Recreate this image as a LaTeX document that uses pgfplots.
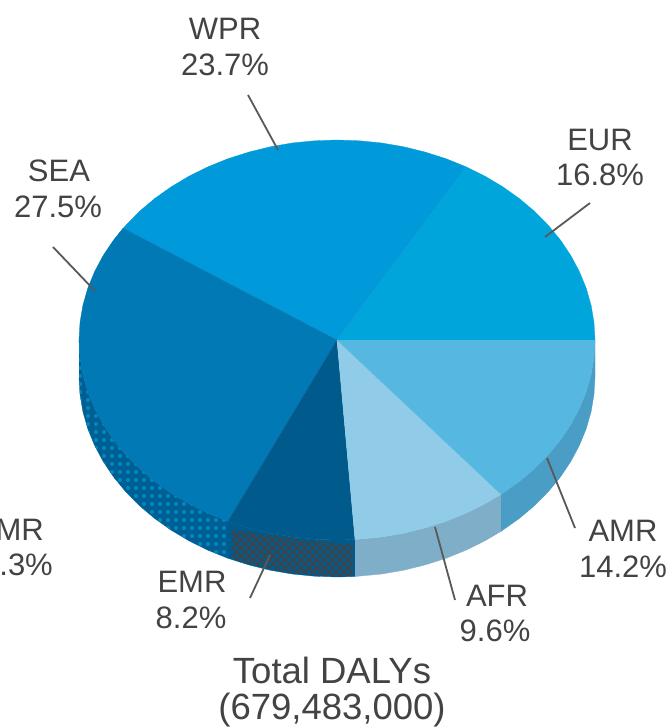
\documentclass[border=0pt]{standalone}
\usepackage{pgfplots}
\pgfplotsset{compat=1.18}
\usepackage{fontspec}
\setmainfont{Liberation Sans}
\usetikzlibrary{patterns.meta}

\definecolor{eur}{HTML}{00A5DC}
\definecolor{wpr}{HTML}{0099D9}
\definecolor{sea}{HTML}{0079B5}
\definecolor{emr}{HTML}{005B8C}
\definecolor{afr}{HTML}{90CCE8}
\definecolor{amr}{HTML}{56B8E1}
\definecolor{seaside}{HTML}{005F92}
\definecolor{seadot}{HTML}{0085C0}
\definecolor{amrside}{HTML}{4A9EC6}
\definecolor{afrside}{HTML}{7FAEC9}
\definecolor{txt}{HTML}{444245}
\definecolor{leader}{HTML}{5A585A}

\pgfplotsset{
  slice/.style={fill=#1, draw=#1, line width=0.3pt, mark=none},
  lead/.style={draw=leader, line width=1.8bp, mark=none},
}
\newcommand{\lab}{\fontsize{31bp}{36bp}\selectfont\color{txt}}
\newcommand{\ttl}{\fontsize{36.5bp}{42bp}\selectfont\color{txt}}

\begin{document}
\begin{tikzpicture}[lbl/.style={inner sep=0pt}]
\useasboundingbox (0,0) rectangle (669bp,728bp);
\begin{axis}[
    scale only axis,
    width=669bp, height=728bp,
    xmin=0, xmax=669, ymin=0, ymax=728,
    y dir=reverse,
    hide axis,
]

% side wall, drawn first
\addplot[slice=seaside] coordinates {
  (79,340)(80,357.4)(82.9,374.7)(87.8,391.8)(94.6,408.4)(103.2,424.5)(113.6,440)(125.7,454.7)(139.4,468.6)(154.6,481.4)(171.2,493.2)(189,503.8)(208,513.2)(228,521.3)
  (228,558.3)(208,550.2)(189,540.8)(171.2,530.2)(154.6,518.4)(139.4,505.6)(125.7,491.7)(113.6,477)(103.2,461.5)(94.6,445.4)(87.8,428.8)(82.9,411.7)(80,394.4)(79,377)
};
\addplot[draw=none, mark=none, pattern={Dots[radius=2.1bp, distance=8bp]}, pattern color=seadot] coordinates {
  (79,340)(80,357.4)(82.9,374.7)(87.8,391.8)(94.6,408.4)(103.2,424.5)(113.6,440)(125.7,454.7)(139.4,468.6)(154.6,481.4)(171.2,493.2)(189,503.8)(208,513.2)(228,521.3)
  (228,558.3)(208,550.2)(189,540.8)(171.2,530.2)(154.6,518.4)(139.4,505.6)(125.7,491.7)(113.6,477)(103.2,461.5)(94.6,445.4)(87.8,428.8)(82.9,411.7)(80,394.4)(79,377)
};
\addplot[slice=emr] coordinates {
  (228,521.3)(248.8,527.9)(270.2,533.2)(292.2,537)(314.5,539.2)(337,540)(355,539.5)
  (355,576.5)(337,577)(314.5,576.2)(292.2,574)(270.2,570.2)(248.8,564.9)(228,558.3)
};
\addplot[slice=afrside] coordinates {
  (355,539.5)(381.8,537)(403.8,533.2)(425.2,527.9)(446,521.3)(466,513.2)(485,503.8)(501.1,494.3)
  (501.1,531.3)(485,540.8)(466,550.2)(446,558.3)(425.2,564.9)(403.8,570.2)(381.8,574)(355,576.5)
};
\addplot[slice=amrside] coordinates {
  (501.1,494.3)(519.4,481.4)(534.6,468.6)(548.3,454.7)(560.4,440)(570.8,424.5)(579.4,408.4)(586.2,391.8)(591.1,374.7)(594,357.4)(595,340)
  (595,377)(594,394.4)(591.1,411.7)(586.2,428.8)(579.4,445.4)(570.8,461.5)(560.4,477)(548.3,491.7)(534.6,505.6)(519.4,518.4)(501.1,531.3)
};

% top of the pie
\addplot[slice=eur] coordinates {
  (337,340)(595,340)(594,322.6)(591.1,305.3)(586.2,288.2)(579.4,271.6)(570.8,255.5)(560.4,240)(548.3,225.3)(534.6,211.4)(519.4,198.6)(502.8,186.8)(485,176.2)(466,166.8)
};
\addplot[slice=wpr] coordinates {
  (337,340)(466,166.8)(446,158.7)(425.2,152.1)(403.8,146.8)(381.8,143)(359.5,140.8)(337,140)(314.5,140.8)(292.2,143)(270.2,146.8)(248.8,152.1)(228,158.7)(208,166.8)(189,176.2)(171.2,186.8)(154.6,198.6)(139.4,211.4)(123.1,228.2)
};
\addplot[slice=sea] coordinates {
  (337,340)(123.1,228.2)(113.6,240)(103.2,255.5)(94.6,271.6)(87.8,288.2)(82.9,305.3)(80,322.6)(79,340)(80,357.4)(82.9,374.7)(87.8,391.8)(94.6,408.4)(103.2,424.5)(113.6,440)(125.7,454.7)(139.4,468.6)(154.6,481.4)(171.2,493.2)(189,503.8)(208,513.2)(228,521.3)
};
\addplot[slice=emr] coordinates {
  (337,340)(228,521.3)(248.8,527.9)(270.2,533.2)(292.2,537)(314.5,539.2)(337,540)(355,539.5)
};
\addplot[slice=afr] coordinates {
  (337,340)(355,539.5)(381.8,537)(403.8,533.2)(425.2,527.9)(446,521.3)(466,513.2)(485,503.8)(501.1,494.3)
};
\addplot[slice=amr] coordinates {
  (337,340)(501.1,494.3)(519.4,481.4)(534.6,468.6)(548.3,454.7)(560.4,440)(570.8,424.5)(579.4,408.4)(586.2,391.8)(591.1,374.7)(594,357.4)(595,340)
};

% hatched patch on the EMR wall
\addplot[draw=none, mark=none, pattern={Lines[angle=45, distance=6bp, line width=2bp]}, pattern color=txt] coordinates {
  (232,530)(290,538)(353,545)(353,576)(337,576)(292,573)(249,564)(233,559)
};
\addplot[draw=none, mark=none, pattern={Lines[angle=-45, distance=6bp, line width=2bp]}, pattern color=txt] coordinates {
  (232,530)(290,538)(353,545)(353,576)(337,576)(292,573)(249,564)(233,559)
};

% leader lines
\addplot[lead] coordinates {(248,95)(278,150)};
\addplot[lead] coordinates {(53,247)(95,291)};
\addplot[lead] coordinates {(590,203)(545,237)};
\addplot[lead] coordinates {(547,458)(575,528)};
\addplot[lead] coordinates {(435,527)(455,600)};
\addplot[lead] coordinates {(270,555)(250,598)};

% labels
\node[lbl] at (axis cs:225,29) {\lab WPR};
\node[lbl] at (axis cs:225,65) {\lab 23.7\%};
\node[lbl] at (axis cs:59,171) {\lab SEA};
\node[lbl] at (axis cs:58,207) {\lab 27.5\%};
\node[lbl] at (axis cs:600,140) {\lab EUR};
\node[lbl] at (axis cs:600,175) {\lab 16.8\%};
\node[lbl] at (axis cs:623,531) {\lab AMR};
\node[lbl] at (axis cs:623,567) {\lab 14.2\%};
\node[lbl] at (axis cs:497,596) {\lab AFR};
\node[lbl] at (axis cs:495,631) {\lab 9.6\%};
\node[lbl] at (axis cs:192,582) {\lab EMR};
\node[lbl] at (axis cs:191,618) {\lab 8.2\%};
\node[lbl, anchor=east] at (axis cs:44,530) {\lab MR};
\node[lbl, anchor=east] at (axis cs:53,565) {\lab .3\%};
\node[lbl] at (axis cs:332,670) {\ttl Total DALYs};
\node[lbl] at (axis cs:332,710) {\ttl (679,483,000)};
\end{axis}
\end{tikzpicture}
\end{document}
